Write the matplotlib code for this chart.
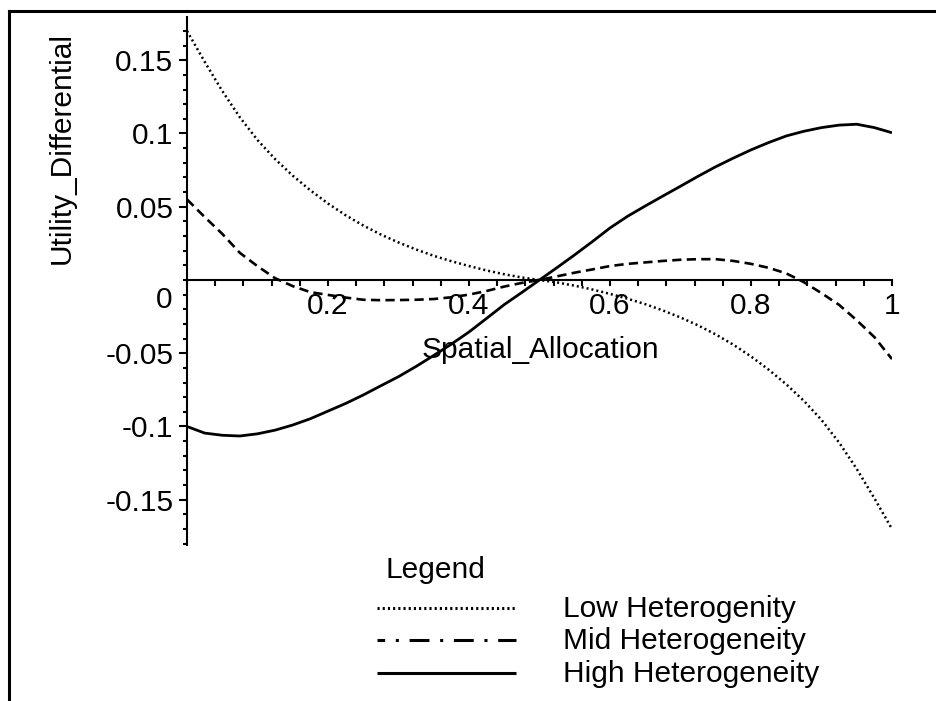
import matplotlib.pyplot as plt
from matplotlib.lines import Line2D
from matplotlib.ticker import MultipleLocator

plt.rcParams['font.family'] = ['Liberation Sans', 'DejaVu Sans']

# values, x = spatial allocation in steps of 0.025
alloc = [0.0, 0.025, 0.05, 0.075, 0.1, 0.125, 0.15, 0.175, 0.2, 0.225,
         0.25, 0.275, 0.3, 0.325, 0.35, 0.375, 0.4, 0.425, 0.45, 0.475,
         0.5, 0.525, 0.55, 0.575, 0.6, 0.625, 0.65, 0.675, 0.7, 0.725,
         0.75, 0.775, 0.8, 0.825, 0.85, 0.875, 0.9, 0.925, 0.95, 0.975, 1.0]
low_het = [0.170, 0.149, 0.129, 0.111, 0.0955, 0.0825, 0.0712, 0.0612, 0.0522, 0.0442,
           0.0372, 0.031, 0.0256, 0.0208, 0.0165, 0.0128, 0.0095, 0.0065, 0.0039, 0.0017,
           0.0, -0.0017, -0.0039, -0.0065, -0.0095, -0.0128, -0.0165, -0.0208, -0.0256, -0.031,
           -0.0372, -0.0442, -0.0522, -0.0612, -0.0712, -0.0825, -0.0955, -0.111, -0.129, -0.149, -0.170]
mid_het = [0.055, 0.043, 0.0315, 0.0185, 0.0094, 0.0012, -0.0042, -0.0083, -0.0102, -0.012,
           -0.0135, -0.0138, -0.0137, -0.0135, -0.013, -0.0118, -0.010, -0.0075, -0.0045, -0.002,
           0.0, 0.0025, 0.005, 0.0072, 0.0095, 0.011, 0.012, 0.013, 0.0138, 0.0142,
           0.0142, 0.013, 0.011, 0.0083, 0.0045, -0.0015, -0.009, -0.017, -0.0275, -0.039, -0.054]
high_het = [-0.100, -0.1045, -0.106, -0.1065, -0.105, -0.1025, -0.099, -0.0947, -0.0895, -0.0843,
            -0.0785, -0.0722, -0.066, -0.059, -0.0515, -0.0438, -0.0355, -0.0262, -0.0168, -0.0085,
            0.0, 0.0085, 0.0172, 0.0262, 0.0355, 0.0435, 0.0505, 0.0573, 0.064, 0.0708,
            0.0773, 0.0832, 0.0888, 0.0938, 0.0983, 0.1015, 0.104, 0.1057, 0.1063, 0.104, 0.1005]

series_names = ["Low Heterogenity", "Mid Heterogeneity", "High Heterogeneity"]
x_ticks = [0.2, 0.4, 0.6, 0.8, 1.0]
x_tick_labels = ["0.2", "0.4", "0.6", "0.8", "1"]
y_ticks = [-0.15, -0.1, -0.05, 0.05, 0.1, 0.15]
y_tick_labels = ["-0.15", "-0.1", "-0.05", "0.05", "0.1", "0.15"]

W, H = 936, 701
FS = 21.5


def fx(px):
    return px / W


def fy(py):
    return 1 - py / H


fig = plt.figure(figsize=(W / 100, H / 100), dpi=100)
ax = fig.add_axes([fx(187), fy(545), 705 / W, 528 / H])

ax.plot(alloc, low_het, color='black', lw=1.8, linestyle=(0, (0.8, 1.2)))
ax.plot(alloc, mid_het, color='black', lw=1.9, linestyle=(0, (3.5, 2)))
ax.plot(alloc, high_het, color='black', lw=2.0, solid_capstyle='butt')

ax.set_xlim(0, 1)
ax.set_ylim(-0.1809, 0.1795)

# axes cross at the origin, Maple style
for side in ['top', 'right']:
    ax.spines[side].set_visible(False)
ax.spines['left'].set_position(('data', 0))
ax.spines['bottom'].set_position(('data', 0))
ax.spines['left'].set_linewidth(1.5)
ax.spines['bottom'].set_linewidth(1.5)

ax.set_xticks(x_ticks)
ax.set_xticklabels(x_tick_labels)
ax.set_yticks(y_ticks)
ax.set_yticklabels(y_tick_labels)
ax.xaxis.set_minor_locator(MultipleLocator(0.04))
ax.yaxis.set_minor_locator(MultipleLocator(0.01))
ax.tick_params(axis='x', which='both', direction='out', length=4.5, width=1.5,
               labelsize=FS, pad=4)
ax.tick_params(axis='y', which='major', direction='out', length=5.8, width=1.5,
               labelsize=FS, pad=4)
ax.tick_params(axis='y', which='minor', direction='out', length=3, width=1.5)

# the zero label sits below the x axis
ax.annotate("0", xy=(0, 0), xytext=(-15, -20), textcoords='offset pixels',
            ha='right', va='center', fontsize=FS)

fig.text(fx(540), fy(358), "Spatial_Allocation", ha='center', va='baseline', fontsize=FS)
fig.text(fx(62), fy(148), "Utility_Differential", ha='center', va='center',
         rotation=90, fontsize=FS)

# legend block under the plot
fig.text(fx(386), fy(578), "Legend", ha='left', va='baseline', fontsize=FS)
legend_styles = [
    dict(lw=2.2, linestyle=(0, (0.7, 1.0))),
    dict(lw=2.2, linestyle=(4, (6.5, 3.5, 1, 3.5))),
    dict(lw=2.2, linestyle='-', solid_capstyle='butt'),
]
legend_rows = [608, 640, 673]
for name, style, row in zip(series_names, legend_styles, legend_rows):
    fig.add_artist(Line2D([fx(377), fx(516)], [fy(row), fy(row)],
                          transform=fig.transFigure, color='black', **style))
    fig.text(fx(563), fy(row + 9), name, ha='left', va='baseline', fontsize=FS)

# outer frame (top and left edges visible)
fig.add_artist(Line2D([fx(9), fx(W)], [fy(11), fy(11)], transform=fig.transFigure,
                      color='black', lw=2.2))
fig.add_artist(Line2D([fx(9), fx(9)], [fy(11), fy(H)], transform=fig.transFigure,
                      color='black', lw=2.2))

fig.savefig('out.png', dpi=100)
